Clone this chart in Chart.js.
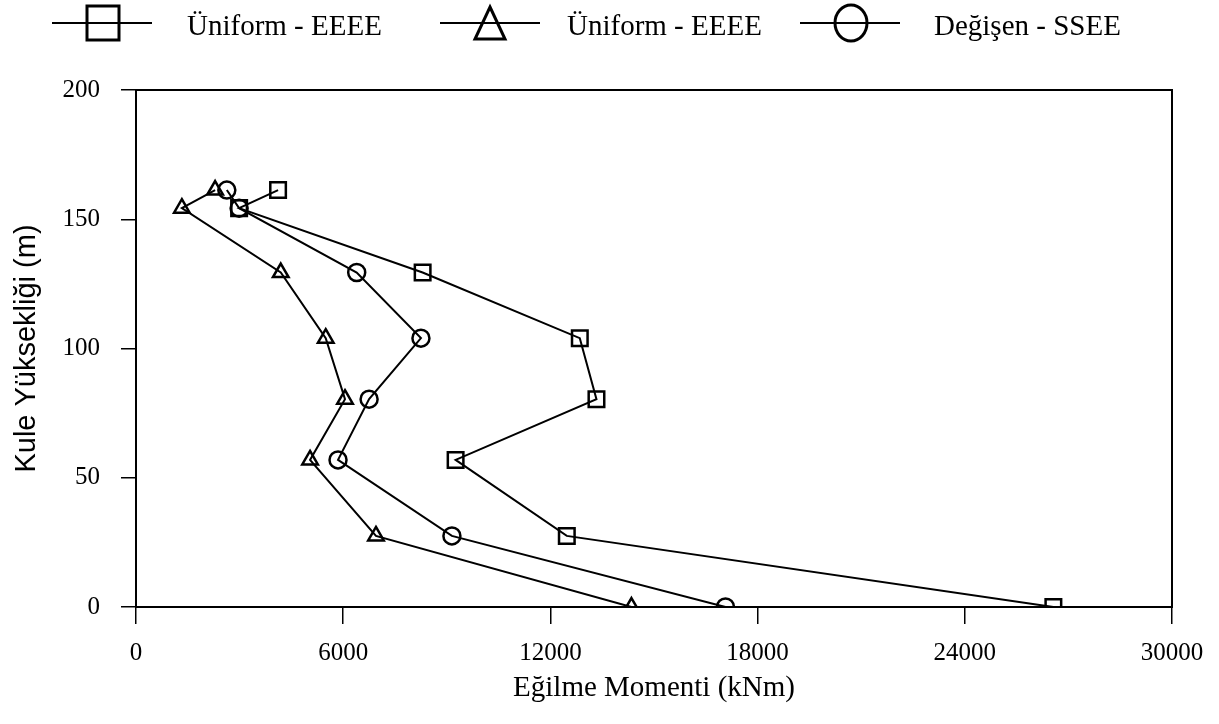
<!DOCTYPE html>
<html>
<head>
<meta charset="utf-8">
<script src="https://cdn.jsdelivr.net/npm/chart.js@4.4.0/dist/chart.umd.min.js"></script>
<style>
    html, body { margin: 0; padding: 0; background: #ffffff; }
    #contenedor { width: 1219px; height: 724px; position: relative; }
</style>
</head>
<body>
<div id="contenedor"><canvas id="canvaMomento"></canvas></div>
<script>
// alturas de la torre (m), comunes a las tres series
const alturas = [161.3, 154.3, 129.4, 104.0, 80.4, 56.9, 27.5, 0];
// momentos de flexion (kNm)
const momentoUniformCuadro = [4114, 2986, 8300, 12851, 13334, 9255, 12475, 26565];
const momentoUniformTriangulo = [2291, 1328, 4192, 5494, 6052, 5040, 6949, 14347];
const momentoDegisen = [2630, 2986, 6391, 8251, 6750, 5850, 9148, 17070];
const ticksX = [0, 6000, 12000, 18000, 24000, 30000];
const ticksY = [0, 50, 100, 150, 200];
const etiquetasLeyenda = ["Üniform - EEEE", "Üniform - EEEE", "Değişen - SSEE"];

// posiciones de la leyenda dibujada a mano
const itemsLeyenda = [
    { inicio: 52, marcador: 103, texto: 187, simbolo: "cuadro" },
    { inicio: 440, marcador: 490, texto: 567, simbolo: "triangulo" },
    { inicio: 800, marcador: 851, texto: 934, simbolo: "circulo" }
];

function armarPuntos(momentos) {
    return momentos.map((m, i) => ({ x: m, y: alturas[i] }));
}

function serie(etiqueta, momentos, estilo, radio) {
    return {
        label: etiqueta,
        data: armarPuntos(momentos),
        showLine: true,
        borderColor: "#000",
        borderWidth: 2,
        backgroundColor: "rgba(0,0,0,0)",
        pointStyle: estilo,
        pointRadius: radio,
        pointBorderWidth: 2.5,
        pointBorderColor: "#000",
        pointBackgroundColor: "rgba(0,0,0,0)"
    };
}

const pluginMarco = {
    id: "marco",
    afterDraw(chart) {
        const { ctx, chartArea } = chart;
        ctx.save();
        ctx.strokeStyle = "#000";
        ctx.lineWidth = 2;
        ctx.strokeRect(chartArea.left, chartArea.top, chartArea.right - chartArea.left, chartArea.bottom - chartArea.top);
        ctx.restore();
    }
};

const pluginLeyenda = {
    id: "leyendaSimbolos",
    afterDraw(chart) {
        const ctx = chart.ctx;
        const yLinea = 23;
        ctx.save();
        ctx.strokeStyle = "#000";
        ctx.fillStyle = "#000";
        itemsLeyenda.forEach((item, i) => {
            ctx.lineWidth = 2;
            ctx.beginPath();
            ctx.moveTo(item.inicio, yLinea);
            ctx.lineTo(item.inicio + 100, yLinea);
            ctx.stroke();

            ctx.lineWidth = 3;
            ctx.beginPath();
            if (item.simbolo === "cuadro") {
                ctx.rect(item.marcador - 16, yLinea - 17, 32, 34);
            } else if (item.simbolo === "triangulo") {
                ctx.moveTo(item.marcador, yLinea - 16);
                ctx.lineTo(item.marcador + 15, yLinea + 16);
                ctx.lineTo(item.marcador - 15, yLinea + 16);
                ctx.closePath();
            } else {
                ctx.ellipse(item.marcador, yLinea, 16, 18, 0, 0, Math.PI * 2);
            }
            ctx.stroke();

            ctx.font = "29px 'Liberation Serif'";
            ctx.textBaseline = "alphabetic";
            ctx.fillText(etiquetasLeyenda[i], item.texto, 35);
        });
        ctx.restore();
    }
};

document.addEventListener("DOMContentLoaded", function() {
    new Chart(document.getElementById("canvaMomento"), {
        type: "scatter",
        data: {
            datasets: [
                serie(etiquetasLeyenda[0], momentoUniformCuadro, "rect", 11),
                serie(etiquetasLeyenda[1], momentoUniformTriangulo, "triangle", 9),
                serie(etiquetasLeyenda[2], momentoDegisen, "circle", 8.5)
            ]
        },
        options: {
            responsive: true,
            maintainAspectRatio: false,
            animation: false,
            layout: {
                padding: { top: 90, right: 47, left: 0, bottom: 0 }
            },
            plugins: {
                legend: { display: false },
                tooltip: { enabled: false }
            },
            scales: {
                x: {
                    type: "linear",
                    min: ticksX[0],
                    max: ticksX[ticksX.length - 1],
                    afterBuildTicks: escala => { escala.ticks = ticksX.map(v => ({ value: v })); },
                    afterFit: escala => { escala.height = 117; },
                    ticks: {
                        color: "#000",
                        padding: 14,
                        maxRotation: 0,
                        font: { family: "'Liberation Serif'", size: 25 },
                        callback: v => String(v)
                    },
                    grid: {
                        drawOnChartArea: false,
                        drawTicks: true,
                        tickLength: 17,
                        color: "#000",
                        lineWidth: 1.5
                    },
                    border: { display: true, color: "#000", width: 2 },
                    title: {
                        display: true,
                        text: "Eğilme Momenti (kNm)",
                        color: "#000",
                        font: { family: "'Liberation Serif'", size: 29 },
                        padding: { top: 0, bottom: 18 }
                    }
                },
                y: {
                    type: "linear",
                    min: ticksY[0],
                    max: ticksY[ticksY.length - 1],
                    afterBuildTicks: escala => { escala.ticks = ticksY.map(v => ({ value: v })); },
                    afterFit: escala => { escala.width = 136; },
                    ticks: {
                        color: "#000",
                        padding: 21,
                        font: { family: "'Liberation Serif'", size: 25 }
                    },
                    grid: {
                        drawOnChartArea: false,
                        drawTicks: true,
                        tickLength: 15,
                        color: "#000",
                        lineWidth: 1.5
                    },
                    border: { display: true, color: "#000", width: 2 },
                    title: {
                        display: true,
                        text: "Kule Yüksekliği (m)",
                        color: "#000",
                        font: { family: "'Liberation Sans'", size: 29 },
                        padding: { top: 10, bottom: 0 }
                    }
                }
            }
        },
        plugins: [pluginMarco, pluginLeyenda]
    });
});
</script>
</body>
</html>
